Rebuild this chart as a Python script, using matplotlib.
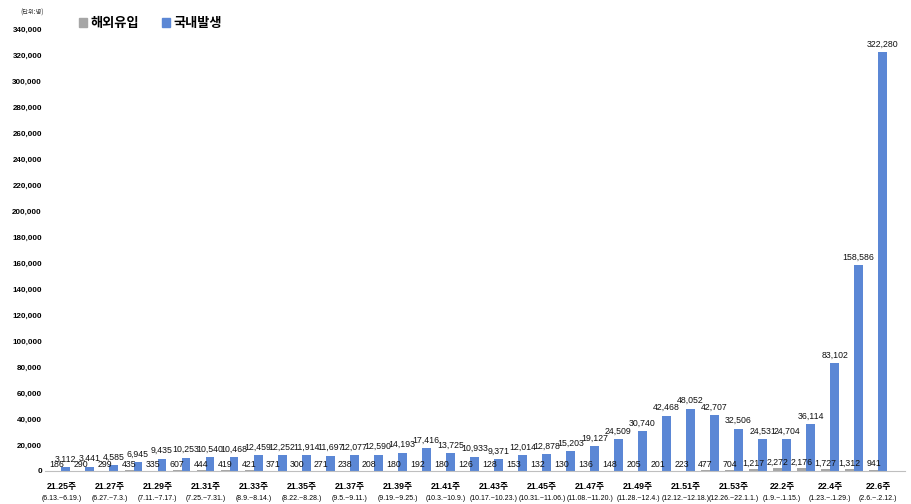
import matplotlib.pyplot as plt
import numpy as np

weeks = ['21.25주', '21.26주', '21.27주', '21.28주', '21.29주', '21.30주', '21.31주', '21.32주',
         '21.33주', '21.34주', '21.35주', '21.36주', '21.37주', '21.38주', '21.39주', '21.40주',
         '21.41주', '21.42주', '21.43주', '21.44주', '21.45주', '21.46주', '21.47주', '21.48주',
         '21.49주', '21.50주', '21.51주', '21.52주', '21.53주', '22.1주', '22.2주', '22.3주',
         '22.4주', '22.5주', '22.6주']
ranges = ['(6.13.~6.19.)', '', '(6.27.~7.3.)', '', '(7.11.~7.17.)', '', '(7.25.~7.31.)', '',
          '(8.9.~8.14.)', '', '(8.22.~8.28.)', '', '(9.5.~9.11.)', '', '(9.19.~9.25.)', '',
          '(10.3.~10.9.)', '', '(10.17.~10.23.)', '', '(10.31.~11.06.)', '', '(11.08.~11.20.)', '',
          '(11.28.~12.4.)', '', '(12.12.~12.18.)', '', '(12.26.~22.1.1.)', '', '(1.9.~.1.15.)', '',
          '(1.23.~.1.29.)', '', '(2.6.~.2.12.)']
overseas = [186, 290, 299, 435, 335, 607, 444, 419, 421, 371, 300, 271, 238, 208, 180, 192,
            180, 126, 128, 153, 132, 130, 136, 148, 205, 201, 223, 477, 704, 1217, 2272, 2176,
            1727, 1312, 941]
domestic = [3112, 3441, 4585, 6945, 9435, 10253, 10540, 10468, 12459, 12252, 11914, 11697,
            12077, 12590, 14193, 17416, 13725, 10933, 9371, 12014, 12878, 15203, 19127, 24509,
            30740, 42468, 48052, 42707, 32506, 24531, 24704, 36114, 83102, 158586, 322280]

num_font = ['Liberation Sans', 'Noto Sans CJK KR']
gray = '#a6a6a6'
blue = '#5b87d5'

fig = plt.figure(figsize=(9.11, 5.04), dpi=100)
ax = fig.add_axes([0.049, 0.0655, 0.944, 0.877])

x = np.arange(len(weeks))
w = 0.37
ax.bar(x - w / 2, overseas, w, color=gray)
ax.bar(x + w / 2, domestic, w, color=blue)

for xi, v in zip(x, overseas):
    ax.annotate(f'{v:,}', (xi - w / 2, v), xytext=(0, 1), textcoords='offset points',
                ha='center', va='bottom', fontsize=6.3, family=num_font, color='#111111')
for xi, v in zip(x, domestic):
    ax.annotate(f'{v:,}', (xi + w / 2, v), xytext=(0, 2.5), textcoords='offset points',
                ha='center', va='bottom', fontsize=6.3, family=num_font, color='#111111')

ax.set_ylim(0, 340000)
ax.set_xlim(-0.7, 35.1)
ax.set_yticks(range(0, 340001, 20000))
ax.set_yticklabels([f'{t:,}' for t in range(0, 340001, 20000)], family=num_font,
                   fontsize=5.8, fontweight='bold')
ax.tick_params(axis='y', length=0, pad=2)

ax.set_xticks(x[::2])
ax.set_xticklabels([])
ax.tick_params(axis='x', length=0)
for i in x[::2]:
    ax.annotate(weeks[i], (i, 0), xycoords=ax.get_xaxis_transform(), xytext=(0, -11),
                textcoords='offset points', ha='center', va='center', fontsize=6.3,
                family=num_font, fontweight='bold')
    ax.annotate(ranges[i], (i, 0), xycoords=ax.get_xaxis_transform(), xytext=(0, -19.5),
                textcoords='offset points', ha='center', va='center', fontsize=5,
                family=num_font)

for s in ['top', 'right', 'left']:
    ax.spines[s].set_visible(False)
ax.spines['bottom'].set_color('#bfbfbf')

fig.text(0.022, 0.972, '(단위:명)', fontsize=4.5, family=['Noto Sans CJK KR'], color='#333333')

from matplotlib.patches import Patch
fig.legend([Patch(color=gray), Patch(color=blue)], ['해외유입', '국내발생'],
           loc='center left', bbox_to_anchor=(0.0867, 0.954), ncol=2, frameon=False,
           prop={'family': 'Noto Sans CJK KR', 'size': 9.5, 'weight': 'bold'},
           borderpad=0, borderaxespad=0,
           handlelength=0.6, handleheight=0.6, handletextpad=0.3, columnspacing=1.7)

fig.savefig('out.png', dpi=100)
